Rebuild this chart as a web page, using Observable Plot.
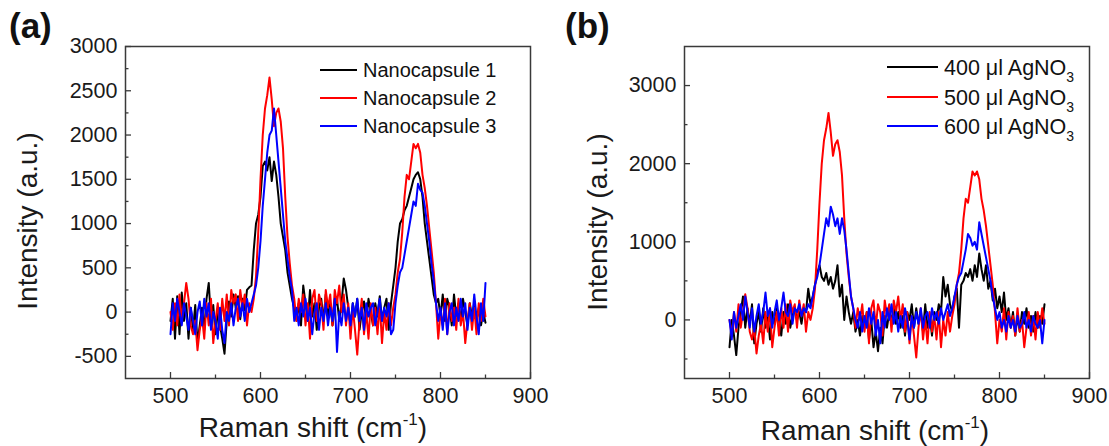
<!DOCTYPE html>
<html><head><meta charset="utf-8">
<script src="https://cdn.jsdelivr.net/npm/d3@7"></script>
<script src="https://cdn.jsdelivr.net/npm/@observablehq/plot@0.6"></script>
<style>
body{margin:0;background:#fff;font-family:"Liberation Sans",Arial,sans-serif;}
#wrap{position:relative;width:1109px;height:446px;overflow:hidden;background:#fff;}
.panel{position:absolute;top:0;width:555px;height:446px;}
#overlay{position:absolute;left:0;top:0;pointer-events:none;}
</style></head>
<body>
<div id="wrap">
  <div class="panel" id="pa" style="left:0"></div>
  <div class="panel" id="pb" style="left:555px"></div>
  <svg id="overlay" width="1109" height="446"></svg>
</div>
<script>
// Raman shift sampling grid (cm^-1), 2.5 cm^-1 step from 500 to 850
const shift = d3.range(500, 852.5, 2.5);

// Panel (a) series
const seriesA = ["Nanocapsule 1", "Nanocapsule 2", "Nanocapsule 3"];
const nano1 = [-100,150,-300,180,-250,220,-100,100,-300,50,-200,80,-350,-150,50,-200,150,330,-100,80,-250,0,-150,-300,-470,-100,120,-50,200,50,180,-80,150,20,250,280,300,700,1000,1100,1300,1650,1700,1600,1750,1480,1700,1550,1300,1000,850,700,450,300,150,50,-100,100,-150,300,100,-100,250,-50,100,-200,50,150,-100,200,-50,100,-150,50,150,-100,100,380,250,50,-150,100,-50,150,-200,0,120,-100,150,0,-150,100,-50,180,-100,50,150,-200,100,300,500,800,1000,1050,1150,1200,1300,1400,1500,1550,1580,1500,1300,1000,800,600,400,200,100,150,-50,200,-100,150,50,-150,200,-50,100,-100,150,0,-150,100,-50,80,-100,50,-150,0,-120];
const nano2 = [0,-200,100,-150,200,-100,100,330,150,-150,-250,-100,-430,-200,-50,-300,100,-150,150,-350,-100,100,-200,150,-100,200,-150,250,100,200,-100,250,50,200,-150,100,0,150,400,900,1500,2000,2300,2450,2650,2400,2100,2250,2300,2150,1850,1300,850,550,300,150,-100,150,0,200,-150,100,-300,150,250,-100,200,100,-200,250,50,200,-150,250,100,300,0,200,-150,100,-300,50,-200,-480,-100,150,-250,0,-300,100,-150,50,-250,100,-350,0,-200,100,-150,50,200,450,600,900,1300,1550,1500,1700,1900,1850,1900,1800,1550,1400,1200,950,700,450,100,-300,0,-150,150,-250,100,-100,50,-200,150,-150,0,-350,-100,100,-200,50,-250,100,-100,150,-50];
const nano3 = [-250,100,-100,150,0,-150,100,-50,-200,50,-100,-250,0,120,-150,150,-50,100,-200,0,-100,-300,50,-200,-350,0,-100,100,-150,50,150,-50,100,-100,150,0,100,200,300,500,800,1200,1500,1800,2000,2050,2300,2000,1700,1400,1100,800,600,400,250,-100,50,-150,100,-50,150,-100,50,-250,0,100,-200,50,-100,100,-150,50,-100,150,-450,0,-150,100,-100,50,-150,100,-50,150,-100,50,-200,100,-50,50,100,-150,0,150,-100,50,-50,100,-250,-200,100,300,450,500,650,800,950,1100,1250,1200,1450,1380,1350,1200,1000,800,550,350,100,-100,50,-200,100,-250,0,100,-150,50,-100,150,-50,100,-200,50,-100,200,-50,-250,100,-100,330];

// Panel (b) series
const seriesB = ["400", "500", "600"];
const ag400 = [-350,0,-200,-450,-100,100,300,-100,150,-50,200,-300,-50,100,-150,150,-100,50,-250,100,-50,150,0,-200,100,-50,200,-100,50,150,0,100,-50,150,100,400,200,300,450,600,700,550,500,600,450,550,400,500,700,300,450,0,300,100,-50,100,-150,0,-200,50,-100,100,-250,0,-350,-150,-400,-100,-300,50,-100,100,0,150,-50,100,-100,50,-200,100,0,200,-100,150,-50,100,-150,200,-100,50,-200,100,0,200,100,550,300,450,200,100,300,400,-100,450,500,600,550,650,500,700,550,850,650,500,700,400,500,250,400,150,300,100,350,0,150,-100,100,-200,50,-150,100,-50,150,-100,50,-150,100,-100,50,-50,200];
const ag500 = nano2;
const ag600 = [0,-250,100,-100,50,200,0,300,100,-100,150,-150,50,200,-50,100,350,50,150,-100,100,250,0,150,350,100,50,200,-50,150,100,200,50,150,100,200,150,300,450,550,700,900,1100,1300,1200,1450,1350,1200,1300,1100,1300,1150,900,600,300,150,0,-100,100,-150,50,-100,150,-50,100,-200,0,-300,100,-100,150,0,200,-50,100,-150,50,-100,150,0,-250,50,-100,100,-50,150,-100,50,100,-100,150,0,100,-50,150,0,100,200,50,150,300,450,550,600,750,900,1100,1050,950,1000,900,1250,1100,950,800,650,500,300,150,0,100,-100,0,-150,50,-100,0,-150,50,-100,-50,100,-100,0,-150,50,-50,-100,0,-300,0];

// Axis ticks
const xMajor = [500, 600, 700, 800, 900];
const xMinor = [550, 650, 750, 850];
const yMajorA = [-500, 0, 500, 1000, 1500, 2000, 2500, 3000];
const yMinorA = [-250, 250, 750, 1250, 1750, 2250, 2750];
const yMajorB = [0, 1000, 2000, 3000];
const yMinorB = [-500, 500, 1500, 2500];

const colors = ["#000000", "#ff0000", "#0000ff"];

function rows(names, arrs) {
  const out = [];
  names.forEach((n, k) => arrs[k].forEach((v, i) => out.push({x: shift[i], y: v, s: n})));
  return out;
}

function panel({data, names, yDomain, yMajor, yMinor, marginLeft, marginRight}) {
  const W = 555, H = 446, mt = 46, mb = 68;
  const iw = W - marginLeft - marginRight, ih = H - mt - mb;
  return Plot.plot({
    width: W, height: H,
    marginLeft, marginRight, marginTop: mt, marginBottom: mb,
    style: {fontSize: "21.5px", fontFamily: "'Liberation Sans', Arial, sans-serif", color: "#1a1a1a", background: "transparent"},
    x: {domain: [450, 900]},
    y: {domain: yDomain},
    color: {domain: names, range: colors},
    marks: [
      Plot.line(data, {x: "x", y: "y", z: "s", stroke: "s", strokeWidth: 2}),
      Plot.frame({stroke: "#3a3a3a", strokeWidth: 1.5}),
      Plot.tickX(xMajor, {x: d => d, insetTop: ih - 6, stroke: "#3a3a3a", strokeWidth: 1.3}),
      Plot.tickX(xMinor, {x: d => d, insetTop: ih - 3.5, stroke: "#3a3a3a", strokeWidth: 1.3}),
      Plot.tickY(yMajor, {y: d => d, insetRight: iw - 6, stroke: "#3a3a3a", strokeWidth: 1.3}),
      Plot.tickY(yMinor, {y: d => d, insetRight: iw - 3.5, stroke: "#3a3a3a", strokeWidth: 1.3}),
      Plot.axisX({ticks: xMajor, tickSize: 0, tickPadding: 9, tickFormat: d => String(d), label: null}),
      Plot.axisY({ticks: yMajor, tickSize: 0, tickPadding: 8, tickFormat: d => String(d), label: null})
    ]
  });
}

document.getElementById("pa").append(panel({
  data: rows(seriesA, [nano1, nano2, nano3]), names: seriesA,
  yDomain: [-750, 3000], yMajor: yMajorA, yMinor: yMinorA, marginLeft: 125, marginRight: 25
}));
document.getElementById("pb").append(panel({
  data: rows(seriesB, [ag400, ag500, ag600]), names: seriesB,
  yDomain: [-750, 3500], yMajor: yMajorB, yMinor: yMinorB, marginLeft: 129, marginRight: 21
}));

// Overlay texts: panel letters, axis titles, legends
const ov = d3.select("#overlay").style("font-family", "'Liberation Sans', Arial, sans-serif");
ov.append("text").attr("x", 9).attr("y", 38).attr("font-size", 35).attr("font-weight", "bold").attr("fill", "#111").text("(a)");
ov.append("text").attr("x", 565).attr("y", 38).attr("font-size", 35).attr("font-weight", "bold").attr("fill", "#111").text("(b)");

function xTitle(cx, y) {
  const t = ov.append("text").attr("x", cx).attr("y", y).attr("text-anchor", "middle").attr("font-size", 28).attr("fill", "#1a1a1a");
  t.append("tspan").text("Raman shift (cm");
  t.append("tspan").attr("font-size", 17).attr("dy", -12).text("-1");
  t.append("tspan").attr("dy", 12).text(")");
}
xTitle(313, 437);
xTitle(875, 440);

function yTitle(cx, cy) {
  ov.append("text").attr("transform", `translate(${cx},${cy}) rotate(-90)`).attr("text-anchor", "middle")
    .attr("dominant-baseline", "central").attr("font-size", 28).attr("fill", "#1a1a1a").text("Intensity (a.u.)");
}
yTitle(27, 221);
yTitle(597, 222);

// legend (a)
const legA = [70, 98, 126];
seriesA.forEach((n, k) => {
  ov.append("line").attr("x1", 320).attr("x2", 357).attr("y1", legA[k]).attr("y2", legA[k]).attr("stroke", colors[k]).attr("stroke-width", 2.2);
  ov.append("text").attr("x", 363).attr("y", legA[k]).attr("dominant-baseline", "central").attr("font-size", 20).attr("fill", "#111").text(n);
});
// legend (b)
const legB = [67, 97, 126];
seriesB.forEach((n, k) => {
  ov.append("line").attr("x1", 887).attr("x2", 938).attr("y1", legB[k]).attr("y2", legB[k]).attr("stroke", colors[k]).attr("stroke-width", 2.2);
  const t = ov.append("text").attr("x", 944).attr("y", legB[k] + 8).attr("font-size", 21.5).attr("fill", "#111");
  t.append("tspan").text(n + " \u03bcl AgNO");
  t.append("tspan").attr("font-size", 14).attr("dy", 7).text("3");
});
</script>
</body></html>
